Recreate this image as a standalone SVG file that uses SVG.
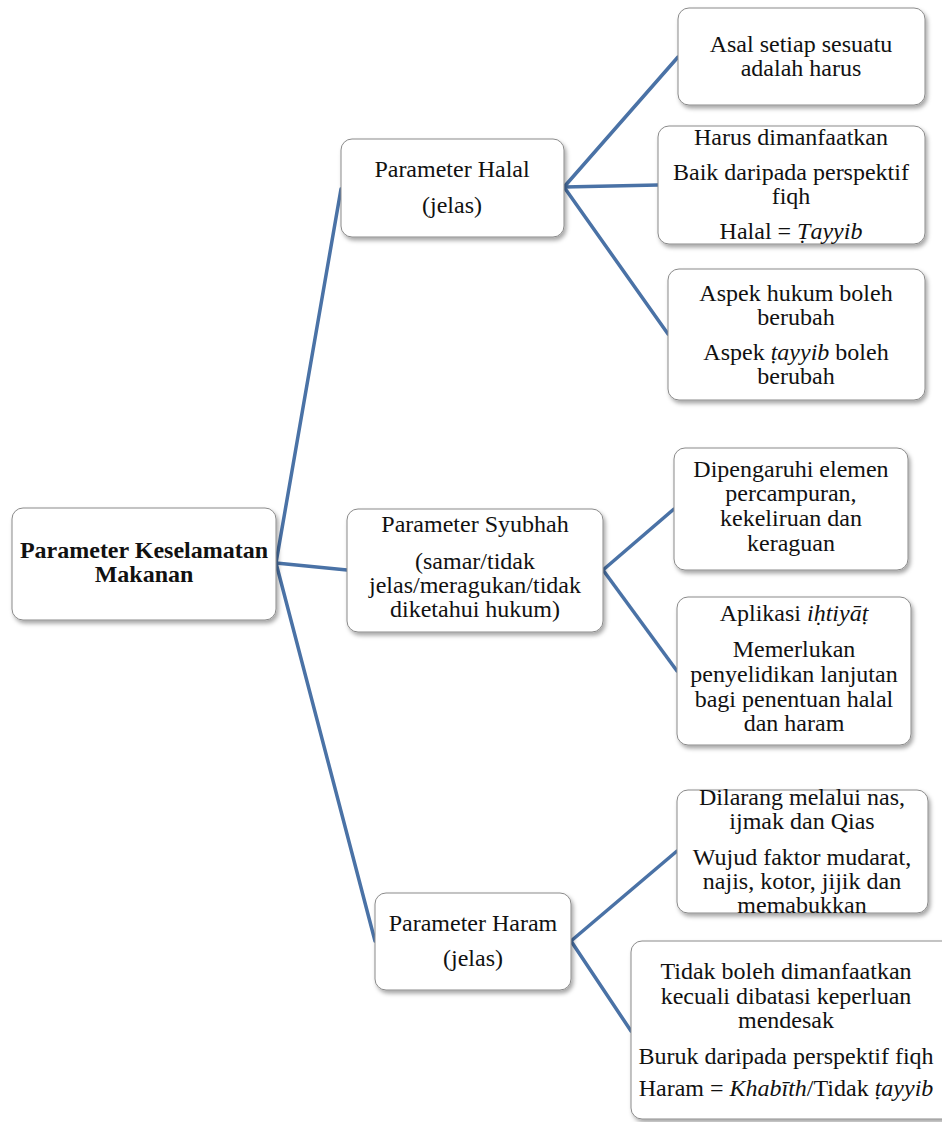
<svg xmlns="http://www.w3.org/2000/svg" width="942" height="1122" viewBox="0 0 942 1122">
<defs>
<filter id="sh" x="-10%" y="-10%" width="130%" height="130%">
<feDropShadow dx="2" dy="3" stdDeviation="2" flood-color="#000" flood-opacity="0.35"/>
</filter>
<style>
.box{fill:#fff;stroke:#8a8a8a;stroke-width:1;filter:url(#sh)}
text{font-family:"Liberation Serif","DejaVu Serif",serif;font-size:24px;fill:#111;text-anchor:middle}
.b{font-weight:bold}
.i{font-style:italic}
.c line{stroke:#4a72a6;stroke-width:3.5;stroke-linecap:round}
</style>
</defs>
<rect width="942" height="1122" fill="#fff"/>
<g class="c" id="connectors">
<line x1="276" y1="563" x2="341" y2="189"/>
<line x1="276" y1="563" x2="347" y2="570"/>
<line x1="276" y1="563" x2="375" y2="941"/>
<line x1="564" y1="187" x2="678" y2="57"/>
<line x1="564" y1="187" x2="658" y2="185"/>
<line x1="564" y1="187" x2="668" y2="334"/>
<line x1="603" y1="570" x2="674" y2="509"/>
<line x1="603" y1="570" x2="677" y2="671"/>
<line x1="571" y1="941" x2="677" y2="851"/>
<line x1="571" y1="941" x2="631" y2="1031"/>
</g>
<g id="root">
<rect class="box" x="12" y="508" width="264" height="112" rx="11"/>
<text class="b" x="144" y="558">Parameter Keselamatan</text>
<text class="b" x="144" y="582">Makanan</text>
</g>
<g id="halal">
<rect class="box" x="341" y="139" width="223" height="98" rx="11"/>
<text x="452" y="177">Parameter Halal</text>
<text x="452" y="213">(jelas)</text>
</g>
<g id="syubhah">
<rect class="box" x="347" y="509" width="256" height="123" rx="11"/>
<text x="475" y="532">Parameter Syubhah</text>
<text x="475" y="569">(samar/tidak</text>
<text x="475" y="593">jelas/meragukan/tidak</text>
<text x="475" y="617">diketahui hukum)</text>
</g>
<g id="haram">
<rect class="box" x="375" y="893" width="196" height="97" rx="11"/>
<text x="473" y="931">Parameter Haram</text>
<text x="473" y="966">(jelas)</text>
</g>
<g id="n1">
<rect class="box" x="678" y="8" width="247" height="97" rx="11"/>
<text x="801" y="52">Asal setiap sesuatu</text>
<text x="801" y="76">adalah harus</text>
</g>
<g id="n2">
<rect class="box" x="658" y="126" width="267" height="118" rx="11"/>
<text x="791" y="145">Harus dimanfaatkan</text>
<text x="791" y="180">Baik daripada perspektif</text>
<text x="791" y="204">fiqh</text>
<text x="791" y="239">Halal = <tspan class="i">Ṭayyib</tspan></text>
</g>
<g id="n3">
<rect class="box" x="668" y="269" width="257" height="131" rx="11"/>
<text x="796" y="301">Aspek hukum boleh</text>
<text x="796" y="325">berubah</text>
<text x="796" y="360">Aspek <tspan class="i">ṭayyib</tspan> boleh</text>
<text x="796" y="384">berubah</text>
</g>
<g id="n4">
<rect class="box" x="674" y="448" width="234" height="122" rx="11"/>
<text x="791" y="477">Dipengaruhi elemen</text>
<text x="791" y="501">percampuran,</text>
<text x="791" y="526">kekeliruan dan</text>
<text x="791" y="551">keraguan</text>
</g>
<g id="n5">
<rect class="box" x="677" y="597" width="234" height="148" rx="11"/>
<text x="794" y="621">Aplikasi <tspan class="i">iḥtiyāṭ</tspan></text>
<text x="794" y="657">Memerlukan</text>
<text x="794" y="682">penyelidikan lanjutan</text>
<text x="794" y="707">bagi penentuan halal</text>
<text x="794" y="731">dan haram</text>
</g>
<g id="n6">
<rect class="box" x="677" y="790" width="251" height="123" rx="11"/>
<text x="802" y="805">Dilarang melalui nas,</text>
<text x="802" y="829">ijmak dan Qias</text>
<text x="802" y="865">Wujud faktor mudarat,</text>
<text x="802" y="889">najis, kotor, jijik dan</text>
<text x="802" y="913">memabukkan</text>
</g>
<g id="n7">
<rect class="box" x="631" y="941" width="330" height="178" rx="11"/>
<text x="786" y="979">Tidak boleh dimanfaatkan</text>
<text x="786" y="1004">kecuali dibatasi keperluan</text>
<text x="786" y="1028">mendesak</text>
<text x="786" y="1064">Buruk daripada perspektif fiqh</text>
<text x="786" y="1096">Haram = <tspan class="i">Khabīth</tspan>/Tidak <tspan class="i">ṭayyib</tspan></text>
</g>
</svg>
